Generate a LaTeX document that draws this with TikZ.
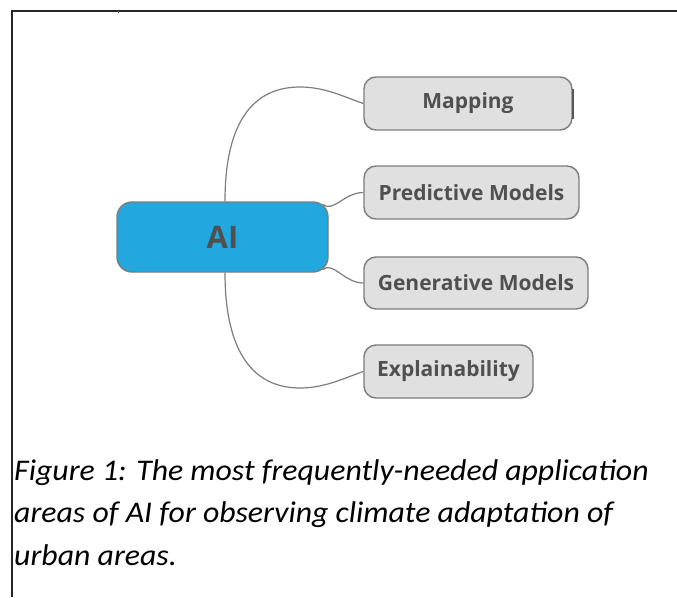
\documentclass[tikz,border=0pt]{standalone}
\usepackage{fontspec}
\newfontfamily\boxfont{Open Sans}
\newfontfamily\capfont{Carlito}[FakeStretch=1.06]
\definecolor{aiblue}{RGB}{34,167,222}
\definecolor{boxgray}{RGB}{224,224,224}
\definecolor{edgegray}{RGB}{125,125,125}
\definecolor{txtgray}{RGB}{80,80,80}
\tikzset{
  child/.style={draw=edgegray, line width=1.4pt, fill=boxgray, rounded corners=12pt,
    minimum height=53pt, inner sep=0pt, font=\boxfont\bfseries\fontsize{21}{24}\selectfont, text=txtgray},
  root/.style={draw=edgegray, line width=1.4pt, fill=aiblue, rounded corners=15pt,
    minimum width=211pt, minimum height=70pt, inner sep=0pt, font=\boxfont\bfseries\fontsize{31}{34}\selectfont, text=txtgray},
  conn/.style={draw=edgegray, line width=1.2pt},
  captext/.style={anchor=base west, inner sep=0pt, font=\capfont\itshape\fontsize{30}{35}\selectfont, text=black},
  frame/.style={draw=black!85, line width=1.6pt}
}
\begin{document}
\begin{tikzpicture}[x=1pt,y=-1pt]
\useasboundingbox (0,0) rectangle (677,597);
\fill[white] (0,0) rectangle (677,597);
% frame
\coordinate (ftl) at (12,11);
\coordinate (ftr) at (677,11);
\coordinate (fbl) at (12,597);
\draw[frame] (ftr) -- (ftl) -- (fbl);
\coordinate (tk1) at (118,9.5);
\coordinate (tk2) at (118,12.5);
\draw[black!70, line width=0.6pt] (tk1) -- (tk2);
% nodes
\node[root] (AI) at (222.5,237) {AI};
\node[child, minimum width=208pt] (Map) at (468,103.5) {Mapping};
\node[child, minimum width=215pt] (Pred) at (471.5,192.5) {Predictive Models};
\node[child, minimum width=224pt, minimum height=52pt] (Gen) at (476,283) {Generative Models};
\node[child, minimum width=169pt] (Expl) at (448.5,371.5) {Explainability};
\draw[black!65, line width=1.6pt] ([yshift=-15pt]Map.east) -- ([yshift=15pt]Map.east);
% connectors
\coordinate (mtop) at (300,87);
\coordinate (ebot) at (300,388);
\draw[conn] ([xshift=2.5pt]AI.north) .. controls +(0,-82) and +(-45,0) .. (mtop)
   .. controls +(25,0) and +(-19,-6.5) .. (Map.west);
\draw[conn] ([xshift=-6pt,yshift=-3pt]AI.north east) .. controls +(10,9) and +(-19,0) .. (Pred.west);
\draw[conn] ([xshift=-6pt,yshift=3pt]AI.south east) .. controls +(10,-9) and +(-19,0) .. (Gen.west);
\draw[conn] ([xshift=2.5pt]AI.south) .. controls +(0,82) and +(-45,0) .. (ebot)
   .. controls +(25,0) and +(-19,6.5) .. (Expl.west);
% caption
\node[captext] (c1) at (14,480) {Figure 1: The most frequently-needed application};
\node[captext] (c2) at (14,522) {areas of AI for observing climate adaptation of};
\node[captext] (c3) at (14,565) {urban areas.};
\end{tikzpicture}
\end{document}
